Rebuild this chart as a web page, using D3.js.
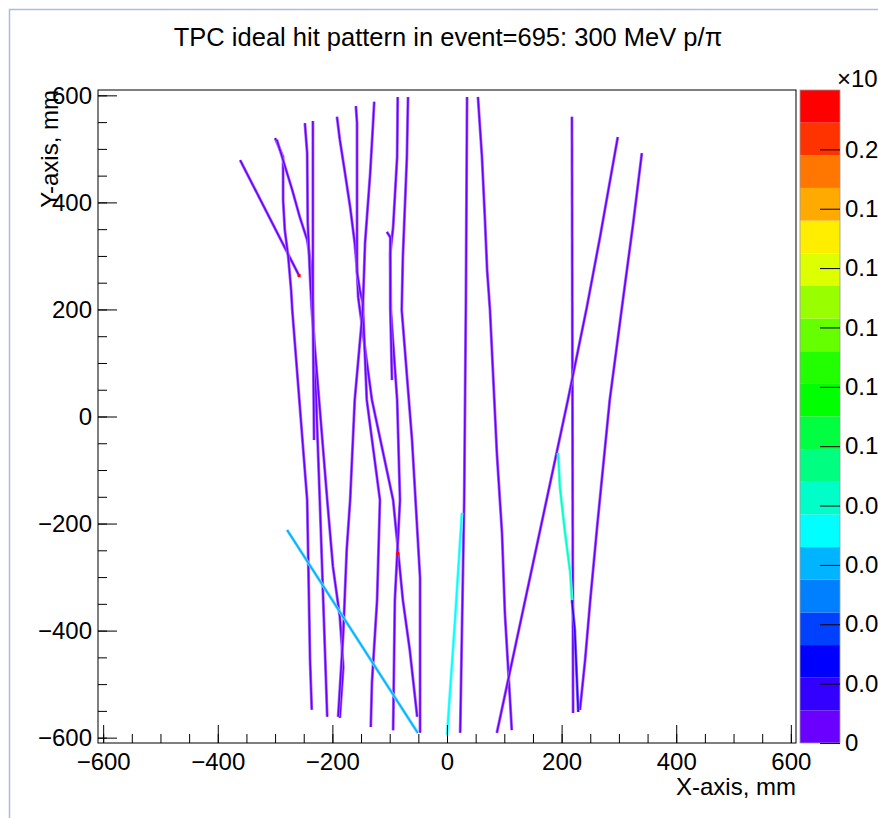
<!DOCTYPE html>
<html>
<head>
<meta charset="utf-8">
<script src="https://cdn.jsdelivr.net/npm/d3@7"></script>
<style>
  body { margin: 0; background: #fff; }
  svg { display: block; font-family: "Liberation Sans", Arial, sans-serif; }
</style>
</head>
<body>
<svg id="graph0" width="878" height="818"></svg>
<script>
// colour palette, bottom (0) to top
var palette = ["#6a00ff", "#3300ff", "#0000ff", "#0040ff", "#0080ff", "#00b4ff", "#00ffff", "#00ffc8",
  "#00ff80", "#00ff40", "#00ff00", "#22ff00", "#66ff00", "#99ff00", "#ddff00", "#ffee00",
  "#ffaa00", "#ff7700", "#ff3300", "#ff0000"];
var zMax = 0.22;
var zTicks = [0, 0.02, 0.04, 0.06, 0.08, 0.1, 0.12, 0.14, 0.16, 0.18, 0.2];
var zTickLabels = ["0", "0.02", "0.04", "0.06", "0.08", "0.1", "0.12", "0.14", "0.16", "0.18", "0.2"];

var xTicks = [-600, -400, -200, 0, 200, 400, 600];
var xTickLabels = ["\u2212600", "\u2212400", "\u2212200", "0", "200", "400", "600"];
var yTicks = [-600, -400, -200, 0, 200, 400, 600];
var yTickLabels = ["\u2212600", "\u2212400", "\u2212200", "0", "200", "400", "600"];

// hit tracks, [x mm, y mm]
var tracks = [
  [[-361, 479], [-258, 263]],
  [[-300, 520], [-286, 485], [-286, 404], [-283, 348], [-277, 298], [-272, 236], [-270, 199], [-244, -156], [-239, -455], [-236, -548]],
  [[-297, 517], [-286, 479], [-270, 423], [-257, 373], [-244, 330], [-236, 274], [-234, 199], [-222, -156], [-216, -343], [-209, -561]],
  [[-248, 548], [-244, 492], [-243, 362], [-239, 261], [-236, 199], [-209, -156], [-199, -281], [-187, -374], [-181, -468], [-187, -563]],
  [[-234, 552], [-234, 199], [-232, -44]],
  [[-192, 560], [-187, 517], [-178, 455], [-169, 391], [-161, 324], [-157, 274], [-155, 223], [-131, 31], [-94, -156], [-77, -343], [-65, -436], [-52, -561]],
  [[-159, 580], [-157, 548], [-157, 362], [-157, 270], [-152, 236], [-147, 212], [-140, 31], [-117, -156], [-122, -343], [-131, -498], [-133, -580]],
  [[-127, 588], [-129, 548], [-134, 455], [-143, 324], [-147, 199], [-161, 31], [-169, -156], [-175, -249], [-181, -405], [-190, -561]],
  [[-86, 597], [-87, 485], [-94, 354], [-99, 305], [-98, 199], [-87, 31], [-82, -156], [-91, -343], [-94, -586]],
  [[-68, 597], [-70, 485], [-77, 298], [-79, 199], [-61, -44], [-47, -302], [-47, -591]],
  [[-105, 345], [-99, 335], [-99, 204], [-96, 68]],
  [[35, 597], [33, 218], [30, -156], [23, -591]],
  [[26, -180], [14, -380], [0, -595]],
  [[54, 597], [61, 485], [66, 373], [70, 274], [75, 199], [87, -68], [96, -218], [101, -367], [110, -530], [113, -586]],
  [[218, 560], [220, -554]],
  [[298, 522], [267, 335], [244, 204], [211, 31], [87, -591]],
  [[340, 492], [325, 362], [307, 218], [284, 31], [262, -206], [250, -343], [241, -455], [232, -548]],
  [[194, -68], [197, -132], [206, -218], [215, -292], [218, -343]],
  [[218, -343], [223, -399], [229, -552]],
  [[-279, -212], [-51, -591]]
];
// palette band of each track
var trackBand = [0, 0, 0, 0, 0, 0, 0, 0, 0, 0, 0, 0, 6, 0, 0, 0, 0, 7, 1, 5];
// single hot cells
var hotCells = [[-258, 263, 19], [-86, -256, 19]];

var svg = d3.select("#graph0"),
  frame = { left: 98, right: 796, top: 90, bottom: 743 },
  pal = { left: 800, right: 840 };

var x = d3.scaleLinear().domain([-609, 609]).range([frame.left, frame.right]);
var y = d3.scaleLinear().domain([-610, 610]).range([frame.bottom, frame.top]);
var z = d3.scaleLinear().domain([0, zMax]).range([frame.bottom, frame.top]);

// pad border
svg.append("path")
  .attr("d", "M9.5,818V9.5H878")
  .attr("fill", "none")
  .attr("stroke", "#a9bde0")
  .attr("stroke-width", 1.5);

// title
svg.append("text")
  .attr("x", 448)
  .attr("y", 46)
  .attr("text-anchor", "middle")
  .attr("font-size", 25.5)
  .text("TPC ideal hit pattern in event=695: 300 MeV p/\u03c0");

// tracks
var line = d3.line()
  .x(function(d) { return x(d[0]); })
  .y(function(d) { return y(d[1]); });

var tg = svg.append("g");
tracks.forEach(function(t, i) {
  var c = d3.color(palette[trackBand[i]]);
  tg.append("path")
    .datum(t)
    .attr("fill", "none")
    .attr("stroke", d3.interpolateRgb(c, "#fff")(0.45))
    .attr("stroke-width", 3)
    .attr("d", line);
  tg.append("path")
    .datum(t)
    .attr("fill", "none")
    .attr("stroke", c.toString())
    .attr("stroke-width", 1.6)
    .attr("d", line);
});

tg.selectAll(".hot")
  .data(hotCells)
  .enter()
  .append("rect")
  .attr("x", function(d) { return x(d[0]) - 1.5; })
  .attr("y", function(d) { return y(d[1]) - 1.5; })
  .attr("width", 3)
  .attr("height", 3)
  .attr("fill", function(d) { return palette[d[2]]; });

// frame
svg.append("rect")
  .attr("x", frame.left)
  .attr("y", frame.top)
  .attr("width", frame.right - frame.left)
  .attr("height", frame.bottom - frame.top)
  .attr("fill", "none")
  .attr("stroke", "#000")
  .attr("stroke-width", 1);

// x axis
var xMinor = d3.range(-600, 601, 50);
svg.append("g")
  .attr("transform", "translate(0," + frame.bottom + ")")
  .call(d3.axisBottom(x).tickValues(xMinor).tickSize(-9).tickFormat(""))
  .call(function(g) { g.select(".domain").remove(); });
svg.append("g")
  .attr("transform", "translate(0," + frame.bottom + ")")
  .call(d3.axisBottom(x).tickValues(xTicks).tickSize(-18).tickPadding(10)
    .tickFormat(function(d, i) { return xTickLabels[i]; }))
  .call(function(g) {
    g.select(".domain").remove();
    g.selectAll("text").attr("font-size", 24).attr("fill", "#000").attr("font-family", null);
  });

// y axis
var yMinor = d3.range(-600, 601, 50);
svg.append("g")
  .attr("transform", "translate(" + frame.left + ",0)")
  .call(d3.axisLeft(y).tickValues(yMinor).tickSize(-9).tickFormat(""))
  .call(function(g) { g.select(".domain").remove(); });
svg.append("g")
  .attr("transform", "translate(" + frame.left + ",0)")
  .call(d3.axisLeft(y).tickValues(yTicks).tickSize(-19).tickPadding(6)
    .tickFormat(function(d, i) { return yTickLabels[i]; }))
  .call(function(g) {
    g.select(".domain").remove();
    g.selectAll("text").attr("font-size", 24).attr("fill", "#000").attr("font-family", null);
  });

// axis titles
svg.append("text")
  .attr("x", frame.right)
  .attr("y", 795)
  .attr("text-anchor", "end")
  .attr("font-size", 24)
  .text("X-axis, mm");

svg.append("text")
  .attr("transform", "translate(58," + frame.top + ") rotate(-90)")
  .attr("text-anchor", "end")
  .attr("font-size", 24)
  .text("Y-axis, mm");

// palette
var bandH = zMax / palette.length;
svg.append("g")
  .selectAll("rect")
  .data(palette)
  .enter()
  .append("rect")
  .attr("x", pal.left)
  .attr("width", pal.right - pal.left)
  .attr("y", function(d, i) { return z((i + 1) * bandH); })
  .attr("height", function(d, i) { return z(i * bandH) - z((i + 1) * bandH); })
  .attr("fill", function(d) { return d; });

svg.append("rect")
  .attr("x", pal.left)
  .attr("y", frame.top)
  .attr("width", pal.right - pal.left)
  .attr("height", frame.bottom - frame.top)
  .attr("fill", "none")
  .attr("stroke", "#999")
  .attr("stroke-width", 0.8);

svg.append("g")
  .attr("transform", "translate(" + pal.right + ",0)")
  .call(d3.axisRight(z).tickValues(zTicks).tickSize(-20).tickPadding(5)
    .tickFormat(function(d, i) { return zTickLabels[i]; }))
  .call(function(g) {
    g.select(".domain").remove();
    g.selectAll("text").attr("font-size", 24).attr("fill", "#000").attr("font-family", null);
  });

svg.append("text")
  .attr("x", 837)
  .attr("y", 87)
  .attr("font-size", 24)
  .text("\u00d710");
</script>
</body>
</html>
